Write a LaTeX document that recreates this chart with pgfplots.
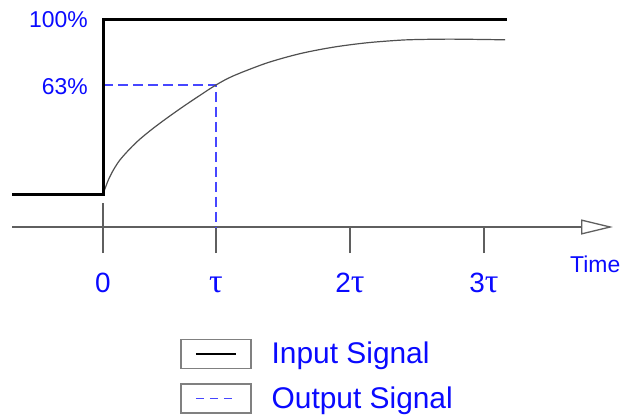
\documentclass[border=0pt]{standalone}
\usepackage{fontspec}
\setmainfont{Liberation Sans}
\newfontfamily\taufont{Liberation Serif}
\usepackage{pgfplots}
\pgfplotsset{compat=1.18}
\usetikzlibrary{arrows.meta}

\definecolor{txtblue}{RGB}{10,10,255}
\definecolor{dashblue}{RGB}{70,70,255}
\definecolor{axgray}{RGB}{95,95,95}
\definecolor{curvegray}{RGB}{80,80,80}

\newcommand{\tauglyph}{{\taufont\fontsize{34}{36}\selectfont τ}}

% x in px from the step (tau = 113), y in percent
\pgfplotstableread{
x y
-91 0
0 0
0 100
404 100
}\inputsig

\pgfplotstableread{
x y
0 0
1 1.5
5.3 7.95
10.3 13.65
17 19.5
27 25.9
37 31.4
50.3 37.6
63.7 43.3
80.3 50.0
97 56.4
113 62.3
130.3 67.5
163.7 74.85
197 80.2
230.3 83.9
263.7 86.4
297 87.9
317 88.3
347 88.5
380 88.3
402 88.1
}\outputsig

\begin{document}
\begin{tikzpicture}
\begin{axis}[
    scale only axis,
    width=601bp, height=208bp,
    xmin=-91, xmax=510,
    ymin=-18.857, ymax=100,
    clip=false,
    axis x line=bottom,
    axis y line=none,
    x axis line style={draw=axgray, line width=1.3bp,
        -{Triangle[open, length=32bp, width=15bp, fill=white]}},
    xtick={0,113,247,381},
    xticklabels={0,\tauglyph,2\tauglyph,3\tauglyph},
    tick align=outside,
    major tick length=26bp,
    xtick style={draw=axgray, line width=1.3bp},
    xticklabel style={font=\fontsize{28}{30}\selectfont, text=txtblue,
        text height=20bp, text depth=6bp, yshift=-16bp},
    legend image code/.code={
        \draw[draw=black!50, line width=1.5bp, solid] (0bp,-14.5bp) rectangle (70bp,14.5bp);
        \draw[#1] (15bp,0bp) -- (55bp,0bp);
    },
    legend style={at={(axis cs:74,-81.4)}, anchor=north west,
        draw=none, fill=none, row sep=14bp, column sep=20bp,
        font=\fontsize{30}{32}\selectfont, text=txtblue,
        nodes={inner sep=0pt}},
    legend cell align=left,
]
\addlegendimage{black, line width=2.2bp}
\addlegendimage{dashblue, line width=1.2bp, dash pattern=on 8bp off 6bp}

\addplot[dashblue, line width=1.3bp, dash pattern=on 10bp off 5bp, forget plot]
    coordinates {(0,62.3) (113,62.3) (113,-18.857)};
\addplot[axgray, line width=1.3bp, forget plot]
    coordinates {(0,-18.857) (0,-5.14)};
\addplot[curvegray, line width=1.2bp, smooth, tension=0.5, forget plot] table {\outputsig};
\addplot[black, line width=3bp, line join=miter, forget plot] table {\inputsig};

\node[anchor=base east, inner sep=0pt, text=txtblue, font=\fontsize{23}{25}\selectfont]
    at (axis cs:-15,95.4) {100\%};
\node[anchor=base east, inner sep=0pt, text=txtblue, font=\fontsize{23}{25}\selectfont]
    at (axis cs:-15,56.6) {63\%};
\node[anchor=base west, inner sep=0pt, text=txtblue, font=\fontsize{23}{25}\selectfont]
    at (axis cs:467,-44.6) {Time};

\legend{Input Signal, Output Signal}

\coordinate (TL) at (axis cs:-103,110.86);
\coordinate (BR) at (axis cs:521,-126.29);
\end{axis}
\path (TL) rectangle (BR);
\end{tikzpicture}
\end{document}
